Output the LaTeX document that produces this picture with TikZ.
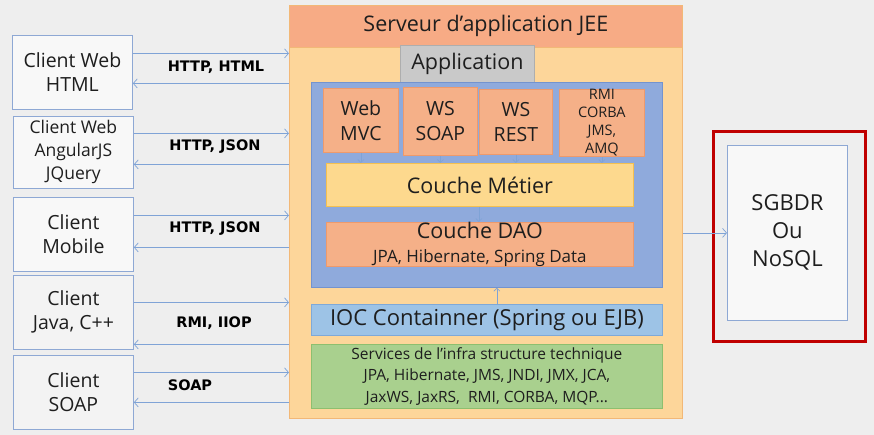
\documentclass[tikz,border=0pt]{standalone}
\usepackage{fontspec}
\setmainfont{Open Sans}
\newfontfamily\lblfont{DejaVu Sans}
\usetikzlibrary{arrows.meta}
\definecolor{bg}{HTML}{EEEEEE}
\definecolor{clbord}{HTML}{8EA8D4}
\definecolor{clfill}{HTML}{F8F8F8}
\definecolor{arrcol}{HTML}{7FA3D6}
\definecolor{srvfill}{HTML}{FDD69A}
\definecolor{srvbord}{HTML}{F2B877}
\definecolor{hdrfill}{HTML}{F7AB85}
\definecolor{tabfill}{HTML}{C9C9C9}
\definecolor{tabbord}{HTML}{AEAEAE}
\definecolor{bluefill}{HTML}{8FAADC}
\definecolor{bluebord}{HTML}{7393CF}
\definecolor{salfill}{HTML}{F5B088}
\definecolor{salbord}{HTML}{EE9A6C}
\definecolor{metfill}{HTML}{FDD98E}
\definecolor{metbord}{HTML}{F4C050}
\definecolor{iocfill}{HTML}{9DC3E6}
\definecolor{iocbord}{HTML}{7FA9D8}
\definecolor{svcfill}{HTML}{A9D08E}
\definecolor{svcbord}{HTML}{8DBF6F}
\definecolor{dbred}{HTML}{C00000}
\definecolor{txt}{HTML}{1E1E1E}
\begin{document}
\begin{tikzpicture}[x=1pt,y=-1pt,
  box/.style={draw, line width=0.8pt, inner sep=0pt, anchor=north west, align=center, text=txt},
  client/.style={box, draw=clbord, fill=clfill, minimum width=120pt, minimum height=74pt, font=\fontsize{19.5}{24}\selectfont},
  lbl/.style={font=\lblfont\bfseries\fontsize{14.5}{17}\selectfont, text=black},
  arr/.style={draw=arrcol, line width=0.7pt, -{Straight Barb[length=4pt,width=9pt]}},
  sarr/.style={draw=arrcol, line width=0.6pt, -{Straight Barb[length=3pt,width=6pt]}},
  sal/.style={box, draw=salbord, fill=salfill},
]
\useasboundingbox[fill=bg] (0,0) rectangle (874,435);

% clients
\node[client] (c1) at (12,35) {Client Web\\HTML};
\node[client, minimum height=72pt, font=\fontsize{17.5}{23}\selectfont] (c2) at (13,116) {Client Web\\AngularJS\\JQuery};
\node[client] (c3) at (13,197) {Client\\Mobile};
\node[client, fill=clfill!50!bg] (c4) at (13,275) {Client\\Java, C++};
\node[client, fill=clfill!50!bg] (c5) at (13,355) {Client\\SOAP};

% server
\node[box, draw=srvbord, fill=srvfill, minimum width=393pt, minimum height=413pt] (srv) at (289,5) {};
\node[box, draw=srvbord, fill=hdrfill, minimum width=393pt, minimum height=42pt, font=\fontsize{21.5}{26}\selectfont] (hdr) at (289,5) {Serveur d’application JEE};
\node[box, draw=tabbord, fill=tabfill, minimum width=134pt, minimum height=37pt, font=\fontsize{21.5}{26}\selectfont] (app) at (400,45) {Application};
\node[box, draw=bluebord, fill=bluefill, minimum width=351pt, minimum height=205pt] (blue) at (311,82) {};

\node[sal, minimum width=75pt, minimum height=64pt, font=\fontsize{19.5}{25}\selectfont] (wm) at (323,88) {Web\\MVC};
\node[sal, minimum width=74pt, minimum height=68pt, font=\fontsize{19.5}{25}\selectfont] (wss) at (403,87) {WS\\SOAP};
\node[sal, minimum width=73pt, minimum height=65pt, font=\fontsize{19.5}{25}\selectfont] (wsr) at (479,89) {WS\\REST};
\node[sal, minimum width=85pt, minimum height=67pt, font=\fontsize{14.5}{18}\selectfont] (rmi) at (559,89) {RMI\\CORBA\\JMS,\\AMQ};

\node[box, draw=metbord, fill=metfill, minimum width=307pt, minimum height=43pt, font=\fontsize{21.5}{26}\selectfont] (met) at (326,163) {Couche Métier};
\node[sal, minimum width=307pt, minimum height=42pt, font=\fontsize{17}{24}\selectfont] (dao) at (326,222) {{\fontsize{21.5}{24}\selectfont Couche DAO}\\JPA, Hibernate, Spring Data};

\node[box, draw=iocbord, fill=iocfill, minimum width=351pt, minimum height=31pt, font=\fontsize{22}{26}\selectfont] (ioc) at (311,304) {IOC Containner (Spring ou EJB)};
\node[box, draw=svcbord, fill=svcfill, minimum width=351pt, minimum height=64pt, font=\fontsize{15.5}{21.5}\selectfont] (svc) at (311,344) {Services de l’infra structure technique\\JPA, Hibernate, JMS, JNDI, JMX, JCA,\\JaxWS, JaxRS,\ \ RMI, CORBA, MQP...};

% database
\node[box, draw=dbred, line width=3pt, minimum width=152pt, minimum height=210pt] (dbo) at (712,130) {};
\node[box, draw=clbord, fill=clfill, minimum width=120pt, minimum height=175pt, font=\fontsize{22}{28}\selectfont] (db) at (727,145) {SGBDR\\Ou\\NoSQL};

% inner arrows
\foreach \n in {wm,wss,wsr,rmi} {\draw[sarr] (\n.south) -- (\n.south |- met.north);}
\draw[sarr] ([xshift=-1pt]met.south) -- ([xshift=-1pt]met.south |- dao.north);
\draw[sarr] ([xshift=10pt]ioc.north) -- ([xshift=10pt]ioc.north |- blue.south);
\draw[arr] (db.west -| srv.east) -- (db.west);

% client arrows
\foreach \c/\a/\b in {c1/19/-11, c2/19/-12, c3/19/-13, c4/10/-32, c5/20/-10} {
  \path ([yshift=\a pt]\c.east) coordinate (\c r);
  \path ([yshift=\b pt]\c.east) coordinate (\c l);
  \draw[arr] (\c r) -- (\c r -| srv.west);
  \draw[arr] (\c l -| srv.west) -- (\c l);
}

% labels
\node[lbl] (l1) at (216,67) {HTTP, HTML};
\node[lbl] (l2) at (215,147) {HTTP, JSON};
\node[lbl] (l3) at (215,229) {HTTP, JSON};
\node[lbl] (l4) at (214,323) {RMI, IIOP};
\node[lbl] (l5) at (190,385) {SOAP};
\end{tikzpicture}
\end{document}
